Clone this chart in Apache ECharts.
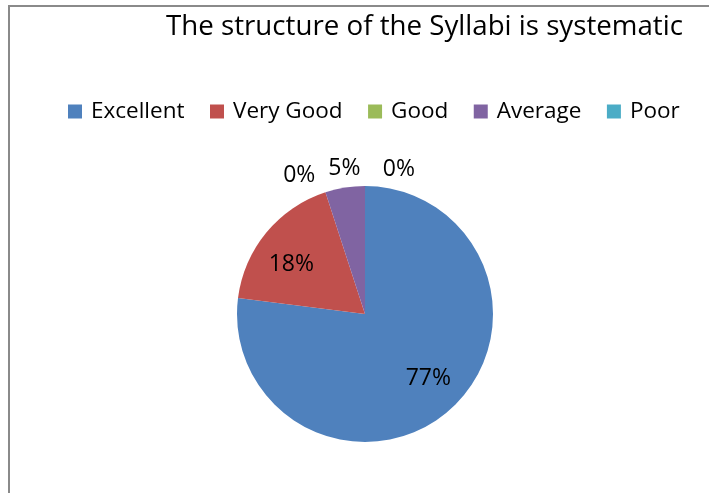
<!DOCTYPE html>
<html>
<head>
<meta charset="utf-8">
<script src="https://cdn.jsdelivr.net/npm/echarts@6/dist/echarts.min.js"></script>
<style>
  html, body { margin: 0; padding: 0; background: #fff; }
  #main { width: 709px; height: 493px; }
  #frame {
    position: absolute; left: 8px; top: 5px; width: 720px; height: 500px;
    border-left: 2px solid #8a8a8a; border-top: 2px solid #8a8a8a;
    pointer-events: none;
  }
</style>
</head>
<body>
<div id="frame"></div>
<div id="main"></div>
<script>
var categories = ['Excellent', 'Very Good', 'Good', 'Average', 'Poor'];
var percents = [77, 18, 0, 5, 0];
var colors = ['#4F81BD', '#C0504D', '#9BBB59', '#8064A2', '#4BACC6'];

// label nudges, index matches categories
var labelOffsets = [[19, 14], [-22, -7], [-2, -7], [22, -9], [55, -7]];
var labelPos = ['inside', 'inside', 'outside', 'outside', 'outside'];

var font = 'Open Sans';

var myChart = echarts.init(document.getElementById('main'));
myChart.setOption({
    animation: false,
    color: colors,
    title: {
        text: 'The structure of the Syllabi is systematic',
        left: 161,
        top: 8,
        textStyle: { fontFamily: font, fontSize: 27.7, fontWeight: 'normal', color: '#000' }
    },
    legend: {
        data: categories,
        left: 63,
        top: 95,
        icon: 'rect',
        itemWidth: 14,
        itemHeight: 14,
        itemGap: 25.5,
        textStyle: { fontFamily: font, fontSize: 22.5, color: '#000', padding: [0, 0, 0, 4] }
    },
    series: [{
        name: 'Syllabi',
        type: 'pie',
        center: [365, 314],
        radius: 128,
        startAngle: 90,
        avoidLabelOverlap: false,
        percentPrecision: 0,
        itemStyle: { borderColor: '#fff', borderWidth: 0 },
        labelLine: { show: false, length: 10, length2: 0 },
        label: {
            formatter: '{d}%',
            fontFamily: font,
            fontSize: 23,
            color: '#000'
        },
        data: categories.map(function (c, i) {
            return {
                name: c,
                value: percents[i],
                label: { position: labelPos[i], offset: labelOffsets[i] }
            };
        })
    }]
});
</script>
</body>
</html>
